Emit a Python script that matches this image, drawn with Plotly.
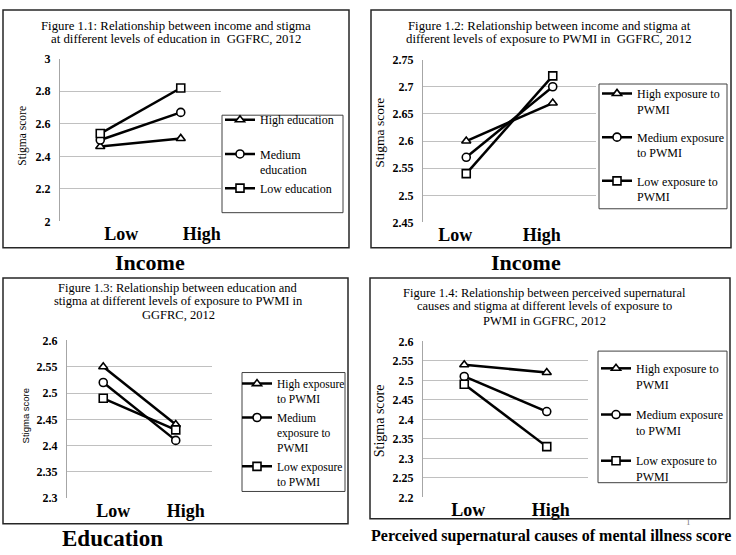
import plotly.graph_objects as go

W, H = 736, 555

# ---------------- data ----------------
categories = ["Low", "High"]

p1_names = ["High education<br> ", "Medium<br>education", "Low education"]
p1_high = [2.46, 2.51]
p1_med = [2.50, 2.67]
p1_low = [2.54, 2.82]

p2_names = ["High exposure to<br>PWMI", "Medium exposure<br>to PWMI", "Low exposure to<br>PWMI"]
p2_high = [2.60, 2.67]
p2_med = [2.57, 2.70]
p2_low = [2.54, 2.72]

p3_names = ["High exposure<br>to PWMI", "Medium<br>exposure to<br>PWMI", "Low exposure<br>to PWMI"]
p3_high = [2.55, 2.44]
p3_med = [2.52, 2.41]
p3_low = [2.49, 2.43]

p4_names = ["High exposure to<br>PWMI", "Medium exposure<br>to PWMI", "Low exposure to<br>PWMI"]
p4_high = [2.54, 2.52]
p4_med = [2.51, 2.42]
p4_low = [2.49, 2.33]

title_lines = [
    ["Figure 1.1: Relationship between income and stigma",
     "at different levels of education in  GGFRC, 2012"],
    ["Figure 1.2: Relationship between income and stigma at",
     "different levels of exposure to PWMI in  GGFRC, 2012"],
    ["Figure 1.3: Relationship between education and",
     "stigma at different levels of exposure to PWMI in",
     "GGFRC, 2012"],
    ["Figure 1.4: Relationship between perceived supernatural",
     "causes and stigma at different levels of exposure to",
     "PWMI in GGFRC, 2012"],
]
xlabels = ["Income", "Income", "Education", "Perceived supernatural causes of mental illness score"]
y_ranges = [(2.0, 3.0, 0.2), (2.45, 2.75, 0.05), (2.3, 2.6, 0.05), (2.2, 2.6, 0.05)]

# ---------------- layout helpers (pixel -> paper) ----------------
def px(x):
    return x / W

def py(y):
    return 1 - y / H

SERIF = "Liberation Serif, Times New Roman, serif"
SANS = "Liberation Sans, Arial, sans-serif"
symbols = ["triangle-up", "circle", "square"]

panels = [
    dict(names=p1_names, vals=[p1_high, p1_med, p1_low], plot=(60, 53, 221, 220),
         border=(3, 3, 349, 247), legbox=(222, 111, 343, 211), legx=220, legtop=101, gap=0,
         lfont=12, shift=21, tx=176, ty=[19, 33], tsize=12.8, xl=(150, 262, 22),
         yt=(23, 132, 11.5, SERIF)),
    dict(names=p2_names, vals=[p2_high, p2_med, p2_low], plot=(423, 54, 596, 221),
         border=(371, 3, 731, 247), legbox=(599, 79, 727, 207), legx=597, legtop=74, gap=9.5,
         lfont=12, shift=-11, tx=549, ty=[19, 33], tsize=12.8, xl=(526, 262, 22),
         yt=(380, 129, 13.5, SERIF)),
    dict(names=p3_names, vals=[p3_high, p3_med, p3_low], plot=(67, 342, 212, 504),
         border=(3, 278, 348, 530), legbox=(242, 375, 345, 497), legx=237, legtop=372, gap=1,
         lfont=11.5, shift=10, tx=178, ty=[288, 302, 316], tsize=12.5, xl=(113, 545, 23),
         yt=(25, 420, 9.5, SANS)),
    dict(names=p4_names, vals=[p4_high, p4_med, p4_low], plot=(423, 343, 588, 503),
         border=(370, 278, 730, 525), legbox=(598, 353, 727, 488), legx=596, legtop=356, gap=12,
         lfont=12, shift=4, tx=544, ty=[293, 307, 322], tsize=12.5, xl=(551, 543, 16),
         yt=(379, 425, 14, SERIF)),
]

fig = go.Figure()
shapes = []
annotations = []
layout = dict(
    width=W, height=H, margin=dict(l=0, r=0, t=0, b=0),
    paper_bgcolor="white", plot_bgcolor="white", showlegend=True,
)

for i, p in enumerate(panels):
    k = i + 1
    sfx = "" if k == 1 else str(k)
    legname = "legend" if k == 1 else f"legend{k}"
    for j in range(3):
        fig.add_trace(go.Scatter(
            x=categories, y=p["vals"][j], name=p["names"][j],
            mode="lines+markers",
            line=dict(color="black", width=2.5),
            marker=dict(symbol=symbols[j], size=8, color="white",
                        line=dict(color="black", width=1.6)),
            xaxis=f"x{sfx}", yaxis=f"y{sfx}",
            legend=legname, legendgroup=f"g{k}_{j}",
        ))
    x0, y0, x1, y1 = p["plot"]
    ymin, ymax, dt = y_ranges[i]
    layout[f"xaxis{sfx}"] = dict(
        domain=[px(x0), px(x1)], anchor=f"y{sfx}", type="category",
        range=[-0.5, 1.5], showgrid=False, showline=False, zeroline=False,
        ticks="", ticklabelshift=p["shift"],
        tickfont=dict(family=SERIF, size=18, color="black", weight="bold"),
    )
    layout[f"yaxis{sfx}"] = dict(
        domain=[py(y1), py(y0)], anchor=f"x{sfx}", range=[ymin, ymax], dtick=dt,
        tick0=ymin, showgrid=True, gridcolor="#c0c0c0", gridwidth=1,
        showline=True, linecolor="#a6a6a6", linewidth=1, zeroline=False,
        ticks="", ticklabelstandoff=6,
        tickfont=dict(family=SERIF, size=12, color="black", weight="bold"),
    )
    lx0, ly0, lx1, ly1 = p["legbox"]
    layout[legname] = dict(
        x=px(p["legx"]), y=py(p["legtop"]), xanchor="left", yanchor="top",
        xref="paper", yref="paper", bgcolor="rgba(0,0,0,0)", borderwidth=0,
        font=dict(family=SERIF, size=p["lfont"], color="black"),
        tracegroupgap=p["gap"], valign="top", itemwidth=30,
    )
    # legend frame and panel frame
    shapes.append(dict(type="rect", xref="paper", yref="paper",
                       x0=px(lx0), x1=px(lx1), y0=py(ly1), y1=py(ly0),
                       line=dict(color="#404040", width=1)))
    bx0, by0, bx1, by1 = p["border"]
    shapes.append(dict(type="rect", xref="paper", yref="paper",
                       x0=px(bx0), x1=px(bx1), y0=py(by1), y1=py(by0),
                       line=dict(color="#262626", width=1.5)))
    # titles, one annotation per line
    for line, ty in zip(title_lines[i], p["ty"]):
        annotations.append(dict(text=line, x=px(p["tx"]), y=py(ty), xref="paper", yref="paper",
                                showarrow=False, xanchor="center", yanchor="middle",
                                font=dict(family=SERIF, size=p["tsize"], color="black")))
    # x label below
    xlx, xly, xls = p["xl"]
    annotations.append(dict(text=xlabels[i], x=px(xlx), y=py(xly), xref="paper", yref="paper",
                            showarrow=False, xanchor="center", yanchor="middle",
                            font=dict(family=SERIF, size=xls, color="black", weight="bold")))
    # y title
    ytx, yty, yts, ytf = p["yt"]
    annotations.append(dict(text="Stigma score", x=px(ytx), y=py(yty), xref="paper", yref="paper",
                            showarrow=False, xanchor="center", yanchor="middle", textangle=-90,
                            font=dict(family=ytf, size=yts, color="black")))

annotations.append(dict(text="1", x=px(688), y=py(528), xref="paper", yref="paper",
                        showarrow=False, xanchor="center", yanchor="middle",
                        font=dict(family=SERIF, size=9, color="#808080")))

layout["shapes"] = shapes
layout["annotations"] = annotations
fig.update_layout(**layout)
fig.write_html("out.html", config={"displayModeBar": False},
               post_script="document.body.style.margin='0';")
